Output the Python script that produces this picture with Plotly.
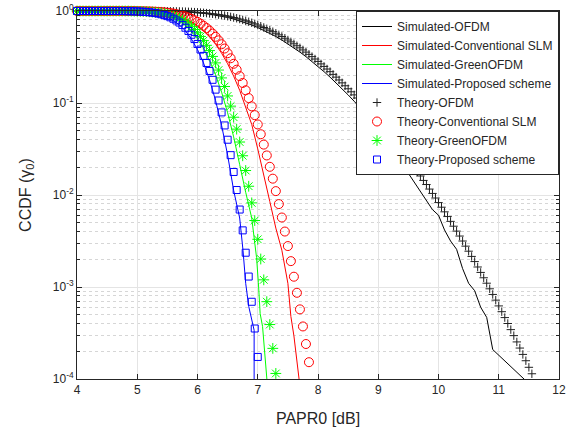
import plotly.graph_objects as go

# ---------------- data ----------------
# Theory curves: markers every 0.05 dB starting at 4.0 dB
theory_x_start = 4.0
theory_x_step = 0.05

theory_ofdm_ccdf = [
    1.0, 1.0, 1.0, 1.0, 1.0, 1.0, 1.0, 1.0, 1.0, 1.0,                      # 4.00
    1.0, 1.0, 1.0, 1.0, 1.0, 1.0, 1.0, 1.0, 1.0, 1.0,                      # 4.50
    1.0, 1.0, 1.0, 0.9990, 0.9987, 0.9984, 0.9979, 0.9974, 0.9967, 0.9958,  # 5.00
    0.9948, 0.9936, 0.9922, 0.9904, 0.9884, 0.9860, 0.9832, 0.9800, 0.9762, 0.9720,  # 5.50
    0.9672, 0.9617, 0.9555, 0.9487, 0.9410, 0.9327, 0.9234, 0.9133, 0.9024, 0.8905,  # 6.00
    0.8777, 0.8641, 0.8495, 0.8341, 0.8178, 0.8007, 0.7828, 0.7641, 0.7448, 0.7249,  # 6.50
    0.7043, 0.6833, 0.6618, 0.6400, 0.6179, 0.5957, 0.5732, 0.5507, 0.5283, 0.5059,  # 7.00
    0.4837, 0.4617, 0.4400, 0.4187, 0.3978, 0.3773, 0.3574, 0.3379, 0.3190, 0.3008,  # 7.50
    0.2831, 0.2661, 0.2498, 0.2341, 0.2191, 0.2047, 0.1910, 0.1780, 0.1656, 0.1540,  # 8.00
    0.1428, 0.1324, 0.1225, 0.1133, 0.1045, 0.0963, 0.0887, 0.0816, 0.0748, 0.0686,  # 8.50
    0.0629, 0.0575, 0.0526, 0.0480, 0.0437, 0.0398, 0.0362, 0.0328, 0.0298, 0.0269,  # 9.00
    0.0244, 0.0220, 0.0198, 0.0179, 0.0161, 0.0144, 0.0130, 0.0116, 0.0104, 0.00927,  # 9.50
    0.00827, 0.00737, 0.00656, 0.00583, 0.00517, 0.00458, 0.00405, 0.00358, 0.00316, 0.00278,  # 10.00
    0.00245, 0.00215, 0.00189, 0.00165, 0.00144, 0.00126, 0.00110, 0.000956, 0.000830, 0.000720,  # 10.50
    0.000623, 0.000539, 0.000465, 0.000401, 0.000344, 0.000296, 0.000253, 0.000217, 0.000185, 0.000158,  # 11.00
    0.000134, 0.000114,                                                    # 11.50
]

theory_slm_log10 = [
    0.0, 0.0, 0.0, 0.0, 0.0, 0.0, 0.0, 0.0, 0.0, 0.0,
    0.0, 0.0, 0.0, 0.0, 0.0, 0.0, 0.0, 0.0, 0.0, 0.0,
    -0.0015, -0.0020, -0.0026, -0.0034, -0.0044, -0.0057, -0.0073, -0.0093, -0.0117, -0.0146,
    -0.0182, -0.0225, -0.0277, -0.0338, -0.0411, -0.0497, -0.0596, -0.0712, -0.0846, -0.1000,
    -0.1175, -0.1375, -0.1600, -0.1853, -0.2138, -0.2453, -0.2803, -0.3189, -0.3615, -0.4080,
    -0.4589, -0.5139, -0.5738, -0.6382, -0.7077, -0.7820, -0.8617, -0.9466, -1.0365, -1.1318,
    -1.2332, -1.3397, -1.4522, -1.5701, -1.6936, -1.8224, -1.9578, -2.0987, -2.2447, -2.3972,
    -2.5550, -2.7189, -2.8882, -3.0629, -3.2431, -3.4288, -3.6197, -3.8173,
]

theory_green_log10 = [
    0.0, 0.0, 0.0, 0.0, 0.0, 0.0, 0.0, 0.0, 0.0, 0.0,
    0.0, 0.0, 0.0, 0.0, 0.0, 0.0, 0.0, 0.0, -0.0017, -0.0023,
    -0.0031, -0.0040, -0.0053, -0.0069, -0.0089, -0.0115, -0.0147, -0.0186, -0.0235, -0.0295,
    -0.0366, -0.0453, -0.0557, -0.0681, -0.0827, -0.1000, -0.1199, -0.1434, -0.1703, -0.2012,
    -0.2364, -0.2766, -0.3220, -0.3728, -0.4302, -0.4936, -0.5641, -0.6418, -0.7274, -0.8210,
    -0.9233, -1.0340, -1.1547, -1.2841, -1.4241, -1.5735, -1.7339, -1.9048, -2.0858, -2.2775,
    -2.4815, -2.6958, -2.9222, -3.1593, -3.4080, -3.6671, -3.9396,
]

theory_proposed_log10 = [
    0.0, 0.0, 0.0, 0.0, 0.0, 0.0, 0.0, 0.0, 0.0, 0.0,
    0.0, 0.0, 0.0, 0.0, 0.0, 0.0, -0.0014, -0.0019, -0.0026, -0.0035,
    -0.0046, -0.0061, -0.0080, -0.0105, -0.0135, -0.0174, -0.0222, -0.0282, -0.0356, -0.0446,
    -0.0555, -0.0687, -0.0844, -0.1032, -0.1253, -0.1515, -0.1817, -0.2172, -0.2580, -0.3049,
    -0.3583, -0.4191, -0.4880, -0.5649, -0.6519, -0.7479, -0.8547, -0.9725, -1.1022, -1.2440,
    -1.3991, -1.5669, -1.7497, -1.9459, -2.1580, -2.3843, -2.6275, -2.8864, -3.1606, -3.4511,
    -3.7602,
]

# Simulated curves (solid lines)
sim_ofdm_x = [4.0, 4.5, 5.0, 5.1, 5.2, 5.3, 5.4, 5.5, 5.6, 5.7, 5.8, 5.9,
              6.0, 6.1, 6.2, 6.3, 6.4, 6.5, 6.6, 6.7, 6.8, 6.9,
              7.0, 7.1, 7.2, 7.3, 7.4, 7.5, 7.6, 7.7, 7.8, 7.9,
              8.0, 8.1, 8.2, 8.3, 8.4, 8.5, 8.6, 8.7, 8.8, 8.9,
              9.0, 9.1, 9.2, 9.3, 9.4, 9.5, 9.6, 9.7, 9.8, 9.9,
              10.0, 10.1, 10.2, 10.3, 10.4, 10.5, 10.6, 10.7, 10.8, 10.9, 11.5]
sim_ofdm_log10 = [0.0, 0.0, 0.0, -0.0006, -0.0009, -0.0014, -0.0023, -0.0034, -0.0051, -0.0074, -0.0105, -0.0145,
                  -0.0198, -0.0264, -0.0346, -0.0446, -0.0566, -0.0708, -0.0874, -0.1064, -0.1280, -0.1522,
                  -0.1793, -0.2091, -0.2417, -0.2771, -0.3154, -0.3565, -0.4004, -0.4469, -0.4962, -0.5481,
                  -0.6024, -0.6594, -0.7190, -0.7809, -0.8453, -0.9119, -0.9809, -1.0521, -1.1261, -1.2013,
                  -1.294, -1.384, -1.475, -1.561, -1.666, -1.764, -1.857, -1.955, -2.053, -2.159,
                  -2.22, -2.38, -2.50, -2.59, -2.80, -2.96, -3.04, -3.22, -3.33, -3.68, -4.05]

sim_slm_x = [4.0, 4.5, 4.9, 5.0, 5.1, 5.2, 5.3, 5.4, 5.5, 5.6, 5.7, 5.8, 5.9,
             6.0, 6.1, 6.2, 6.3, 6.4, 6.5, 6.6, 6.7, 6.8, 6.9,
             7.0, 7.1, 7.2, 7.3, 7.4, 7.5, 7.55, 7.6, 7.7]
sim_slm_log10 = [0.0, 0.0, 0.0, -0.0026, -0.0044, -0.0073, -0.0117, -0.0182, -0.0277, -0.0411, -0.0596, -0.0846, -0.1175,
                 -0.1600, -0.2138, -0.2803, -0.3615, -0.4589, -0.5738, -0.7077, -0.8617, -1.0365, -1.2332,
                 -1.499, -1.771, -2.071, -2.36, -2.60, -2.96, -3.32, -3.53, -4.08]

sim_green_x = [4.0, 4.5, 4.9, 5.0, 5.1, 5.2, 5.3, 5.4, 5.5, 5.6, 5.7, 5.8, 5.9,
               6.0, 6.1, 6.2, 6.3, 6.4, 6.5, 6.6, 6.7, 6.75, 6.8, 6.9,
               6.96, 6.98, 7.01, 7.04, 7.08, 7.11, 7.15, 7.17]
sim_green_log10 = [0.0, 0.0, -0.002, -0.0045, -0.0080, -0.0133, -0.0214, -0.0337, -0.0515, -0.0766, -0.1119, -0.1595, -0.2223,
                   -0.3037, -0.4072, -0.5359, -0.6930, -0.8823, -1.1064, -1.3681, -1.6697, -1.84, -1.97, -2.25,
                   -2.55, -2.68, -2.95, -3.29, -3.43, -3.685, -3.99, -4.15]

sim_proposed_x = [4.0, 4.5, 4.9, 5.0, 5.1, 5.2, 5.3, 5.4, 5.5, 5.6, 5.7, 5.8, 5.9,
                  6.0, 6.1, 6.2, 6.3, 6.4, 6.5, 6.6, 6.7, 6.755, 6.78, 6.80, 6.85,
                  6.91, 6.93, 6.94, 6.94]
sim_proposed_log10 = [0.0, 0.0, -0.003, -0.0061, -0.0105, -0.0174, -0.0282, -0.0446, -0.0687, -0.1032, -0.1515, -0.2172, -0.3049,
                      -0.4191, -0.5649, -0.7479, -0.9725, -1.2440, -1.5669, -1.95, -2.25, -2.60, -2.78, -2.96, -3.21,
                      -3.395, -3.45, -3.47, -4.3]

series_names = ["Simulated-OFDM", "Simulated-Conventional SLM", "Simulated-GreenOFDM",
                "Simulated-Proposed scheme", "Theory-OFDM", "Theory-Conventional SLM",
                "Theory-GreenOFDM", "Theory-Proposed scheme"]

y_tick_exponents = [-4, -3, -2, -1, 0]
x_tick_values = [4, 5, 6, 7, 8, 9, 10, 11, 12]

# ---------------- figure ----------------
FONT = "Liberation Sans, Arial, Helvetica, sans-serif"
TXT = "#262626"
BLACK, RED, GREEN, BLUE = "#000000", "#ff0000", "#00ff00", "#0000ff"


def theory_x(n):
    return [round(theory_x_start + theory_x_step * i, 2) for i in range(n)]


def from_log(vals):
    return [10 ** v for v in vals]


fig = go.Figure()

for xs, lv, name, col in [
    (sim_ofdm_x, sim_ofdm_log10, series_names[0], BLACK),
    (sim_slm_x, sim_slm_log10, series_names[1], RED),
    (sim_green_x, sim_green_log10, series_names[2], GREEN),
    (sim_proposed_x, sim_proposed_log10, series_names[3], BLUE),
]:
    fig.add_trace(go.Scatter(x=xs, y=from_log(lv), mode="lines", name=name,
                             line=dict(color=col, width=1)))

fig.add_trace(go.Scatter(
    x=theory_x(len(theory_ofdm_ccdf)), y=theory_ofdm_ccdf, mode="markers",
    name=series_names[4], cliponaxis=False,
    marker=dict(symbol="cross-thin", size=6, color=BLACK, line=dict(color="#202020", width=1))))
fig.add_trace(go.Scatter(
    x=theory_x(len(theory_slm_log10)), y=from_log(theory_slm_log10), mode="markers",
    name=series_names[5], cliponaxis=False,
    marker=dict(symbol="circle-open", size=9, color=RED, line=dict(color=RED, width=1))))
fig.add_trace(go.Scatter(
    x=theory_x(len(theory_green_log10)), y=from_log(theory_green_log10), mode="markers",
    name=series_names[6], cliponaxis=False,
    marker=dict(symbol="asterisk-open", size=9, color=GREEN, line=dict(color=GREEN, width=1))))
fig.add_trace(go.Scatter(
    x=theory_x(len(theory_proposed_log10)), y=from_log(theory_proposed_log10), mode="markers",
    name=series_names[7], cliponaxis=False,
    marker=dict(symbol="square-open", size=7, color=BLUE, line=dict(color=BLUE, width=1))))

minor_vals = [m * 10 ** e for e in y_tick_exponents[:-1] for m in range(2, 10)]

fig.update_layout(
    width=572, height=430,
    margin=dict(l=77, r=13, t=11, b=51, autoexpand=False),
    paper_bgcolor="white", plot_bgcolor="white",
    font=dict(family=FONT, size=12, color=TXT),
    showlegend=True,
    legend=dict(x=1, y=1, xanchor="right", yanchor="top",
                bgcolor="white", bordercolor=TXT, borderwidth=1,
                font=dict(family=FONT, size=12, color=TXT),
                tracegroupgap=0),
    xaxis=dict(
        range=[4, 12], tickmode="array", tickvals=x_tick_values,
        ticks="inside", ticklen=5, tickcolor=TXT, tickwidth=1,
        showline=True, linecolor=TXT, linewidth=1, mirror="ticks",
        showgrid=True, gridcolor="#e4e4e4", gridwidth=1, zeroline=False,
        tickfont=dict(size=12, color=TXT), automargin=False,
        title=dict(text="PAPR0 [dB]", font=dict(size=16, color=TXT), standoff=16),
    ),
    yaxis=dict(
        type="log", range=[-4, 0], tickmode="array",
        tickvals=[10 ** e for e in y_tick_exponents],
        ticktext=["10<sup>%d</sup>" % e for e in y_tick_exponents],
        ticks="inside", ticklen=5, tickcolor=TXT, tickwidth=1,
        showline=True, linecolor=TXT, linewidth=1, mirror="ticks",
        showgrid=True, gridcolor="#e4e4e4", gridwidth=1, zeroline=False,
        tickfont=dict(size=12, color=TXT), automargin=False,
        minor=dict(tickmode="array", tickvals=minor_vals, ticks="inside", ticklen=3,
                   tickcolor=TXT, showgrid=True, gridcolor="#d6d6d6", griddash="dot", gridwidth=1),
        title=dict(text="CCDF (γ<sub>0</sub>)", font=dict(size=16, color=TXT), standoff=17),
    ),
)

fig.write_html("out.html", config={"displayModeBar": False},
               post_script="document.body.style.margin='0';document.body.style.padding='0';")
